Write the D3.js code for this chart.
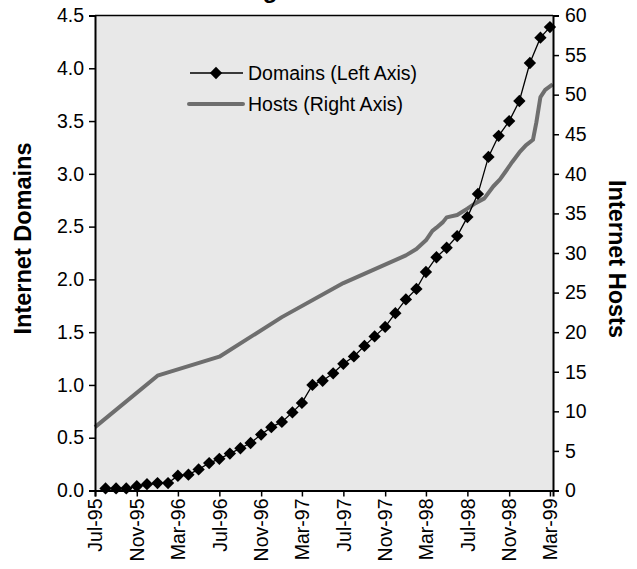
<!DOCTYPE html>
<html>
<head>
<meta charset="utf-8">
<script src="https://cdn.jsdelivr.net/npm/d3@7/dist/d3.min.js"></script>
<style>
  html, body { margin: 0; padding: 0; background: #ffffff; }
  svg { display: block; }
  text { font-family: "Liberation Sans", Arial, sans-serif; }
</style>
</head>
<body>
<svg id="chart" width="637" height="569"></svg>
<script>
// ---------- data ----------
const domainMonths = [
  "1995-08","1995-09","1995-10","1995-11","1995-12",
  "1996-01","1996-02","1996-03","1996-04","1996-05","1996-06",
  "1996-07","1996-08","1996-09","1996-10","1996-11","1996-12",
  "1997-01","1997-02","1997-03","1997-04","1997-05","1997-06",
  "1997-07","1997-08","1997-09","1997-10","1997-11","1997-12",
  "1998-01","1998-02","1998-03","1998-04","1998-05","1998-06",
  "1998-07","1998-08","1998-09","1998-10","1998-11","1998-12",
  "1999-01","1999-02","1999-03"
];
const domainValues = [
  0.02, 0.02, 0.02, 0.04, 0.06,
  0.07, 0.07, 0.14, 0.15, 0.20, 0.26,
  0.30, 0.35, 0.40, 0.45, 0.53, 0.60,
  0.65, 0.74, 0.83, 1.00, 1.04, 1.11,
  1.20, 1.27, 1.37, 1.46, 1.55, 1.68,
  1.81, 1.91, 2.07, 2.21, 2.30, 2.41,
  2.59, 2.81, 3.16, 3.36, 3.50, 3.69,
  4.05, 4.29, 4.39
];
const hostDates = [
  "1995-07-01","1996-01-01","1996-07-01","1997-01-01","1997-07-01","1998-01-01",
  "1998-02-01","1998-03-01","1998-03-20","1998-04-01","1998-04-20","1998-05-01",
  "1998-06-01","1998-07-01","1998-07-25","1998-08-20","1998-09-15","1998-10-05",
  "1998-10-20","1998-11-10","1998-12-01","1998-12-20","1999-01-10","1999-01-20",
  "1999-02-01","1999-02-15","1999-03-09"
];
const hostValues = [
  8.0, 14.5, 16.9, 21.9, 26.2, 29.7,
  30.5, 31.6, 32.8, 33.2, 33.9, 34.5,
  34.8, 35.6, 36.3, 36.9, 38.4, 39.3,
  40.2, 41.5, 42.7, 43.6, 44.3, 46.5,
  49.7, 50.6, 51.3
];
const xTickLabels = ["Jul-95","Nov-95","Mar-96","Jul-96","Nov-96","Mar-97",
                     "Jul-97","Nov-97","Mar-98","Jul-98","Nov-98","Mar-99"];
const leftTicks = [0, 0.5, 1.0, 1.5, 2.0, 2.5, 3.0, 3.5, 4.0, 4.5];
const rightTicks = [0, 5, 10, 15, 20, 25, 30, 35, 40, 45, 50, 55, 60];
const titleText = "Hosts Falling Behind Domains";
const leftTitle = "Internet Domains";
const rightTitle = "Internet Hosts";
const legendLabels = ["Domains (Left Axis)", "Hosts (Right Axis)"];

// ---------- layout ----------
const svg = d3.select("#chart");
const L = 95, R = 553, T = 15.5, B = 490.5;
const parseMonth = d3.timeParse("%Y-%m");
const parseDay = d3.timeParse("%Y-%m-%d");
const parseTick = d3.timeParse("%b-%y");

const x = d3.scaleTime()
  .domain([new Date(1995, 6, 1), new Date(1999, 2, 10)])
  .range([L, R]);
const yL = d3.scaleLinear().domain([0, 4.5]).range([B, T]);
const yR = d3.scaleLinear().domain([0, 60]).range([B, T]);

const domains = domainMonths.map((m, i) => ({ date: parseMonth(m), value: domainValues[i] }));
const hosts = hostDates.map((d, i) => ({ date: parseDay(d), value: hostValues[i] }));

// title (mostly above the page edge, as in the reference)
svg.append("text")
  .attr("x", 300).attr("y", -2)
  .attr("text-anchor", "middle")
  .attr("font-size", 24).attr("font-weight", "bold")
  .text(titleText);

// plot background
svg.append("rect")
  .attr("x", L).attr("y", T).attr("width", R - L).attr("height", B - T)
  .attr("fill", "#e8e8e8");

// host line
svg.append("path")
  .datum(hosts)
  .attr("fill", "none")
  .attr("stroke", "#6e6e6e")
  .attr("stroke-width", 4)
  .attr("stroke-linejoin", "round")
  .attr("d", d3.line().x(d => x(d.date)).y(d => yR(d.value)));

// domains line
svg.append("path")
  .datum(domains)
  .attr("fill", "none")
  .attr("stroke", "#000")
  .attr("stroke-width", 1.3)
  .attr("d", d3.line().x(d => x(d.date)).y(d => yL(d.value)));

const diamond = d3.symbol().type(d3.symbolSquare).size(76);
svg.append("g").selectAll("path")
  .data(domains)
  .join("path")
  .attr("d", diamond)
  .attr("fill", "#000")
  .attr("transform", d => `translate(${x(d.date)},${yL(d.value)}) rotate(45)`);

// frame top
svg.append("line").attr("x1", L).attr("x2", R).attr("y1", T).attr("y2", T)
  .attr("stroke", "#000").attr("stroke-width", 1.5);

// axes
const fs = 19.5;
const axL = svg.append("g").attr("transform", `translate(${L},0)`)
  .call(d3.axisLeft(yL).tickValues(leftTicks).tickFormat(d3.format(".1f")).tickSize(6).tickPadding(5));
const axR = svg.append("g").attr("transform", `translate(${R},0)`)
  .call(d3.axisRight(yR).tickValues(rightTicks).tickFormat(d3.format("d")).tickSize(6).tickPadding(6));
const axB = svg.append("g").attr("transform", `translate(0,${B})`)
  .call(d3.axisBottom(x).tickValues(xTickLabels.map(parseTick)).tickFormat(d3.timeFormat("%b-%y")).tickSize(6).tickPadding(6));

[axL, axR, axB].forEach(g => {
  g.select(".domain").attr("stroke", "#000").attr("stroke-width", 2);
  g.selectAll(".tick line").attr("stroke", "#000").attr("stroke-width", 1.5);
  g.selectAll(".tick text").attr("fill", "#000").attr("font-size", fs)
    .attr("font-family", "Liberation Sans, Arial, sans-serif");
});
axB.selectAll(".tick text")
  .attr("text-anchor", "end")
  .attr("transform", "rotate(-90)")
  .attr("x", -8).attr("y", 0).attr("dy", "0.35em");

// axis titles
svg.append("text")
  .attr("transform", `translate(31,238.5) rotate(-90)`)
  .attr("text-anchor", "middle")
  .attr("font-size", 23.5).attr("font-weight", "bold")
  .text(leftTitle);
svg.append("text")
  .attr("transform", `translate(609,259) rotate(90)`)
  .attr("text-anchor", "middle")
  .attr("font-size", 23.5).attr("font-weight", "bold")
  .text(rightTitle);

// legend
const lg = svg.append("g");
lg.append("line").attr("x1", 190).attr("x2", 243).attr("y1", 73).attr("y2", 73)
  .attr("stroke", "#000").attr("stroke-width", 1.3);
lg.append("path").attr("d", diamond).attr("fill", "#000")
  .attr("transform", "translate(216,73) rotate(45)");
lg.append("text").attr("x", 248).attr("y", 80).attr("font-size", fs).text(legendLabels[0]);
lg.append("line").attr("x1", 189).attr("x2", 243).attr("y1", 104).attr("y2", 104)
  .attr("stroke", "#6e6e6e").attr("stroke-width", 4).attr("stroke-linecap", "round");
lg.append("text").attr("x", 248).attr("y", 111).attr("font-size", fs).text(legendLabels[1]);
</script>
</body>
</html>
